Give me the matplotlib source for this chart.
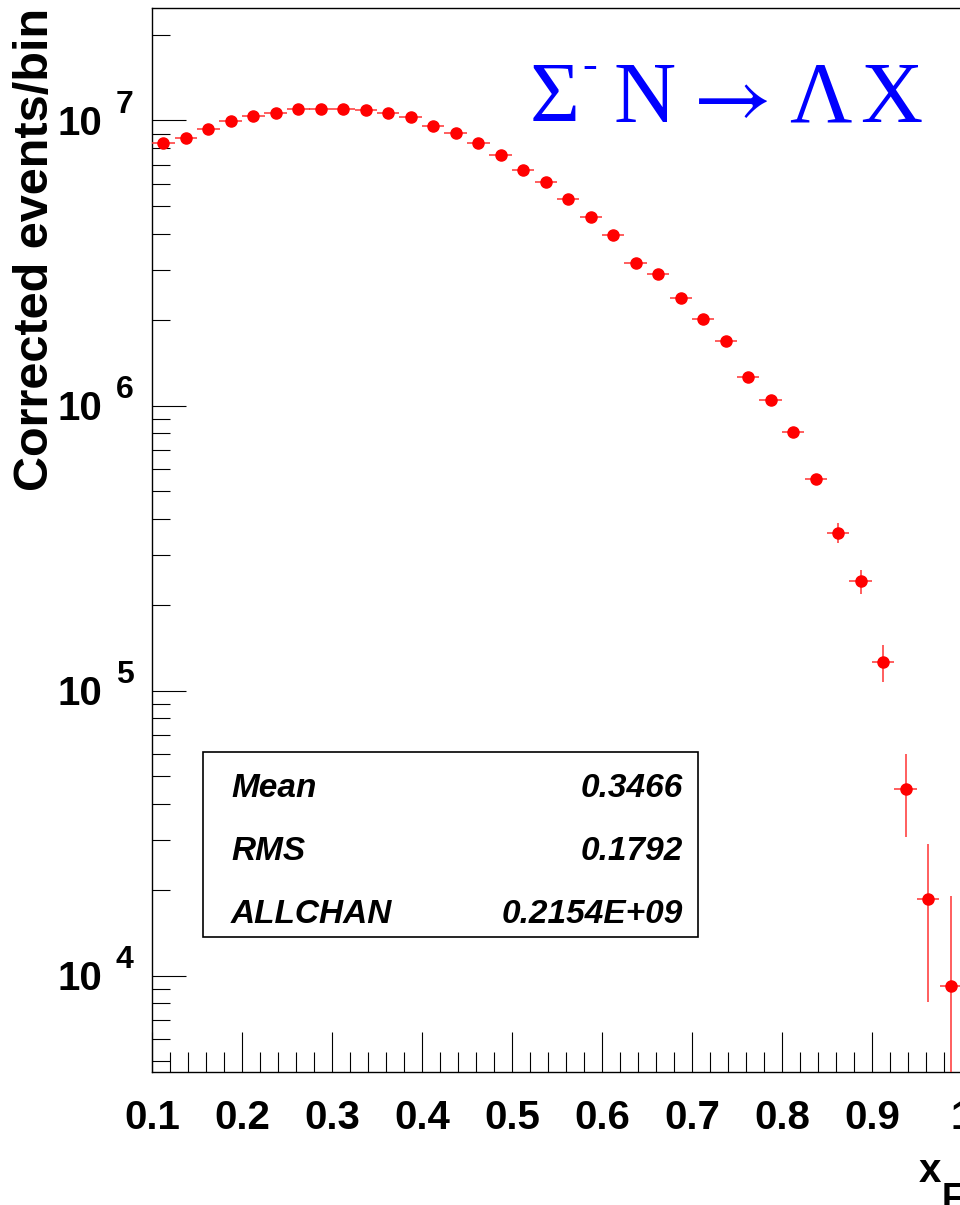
import matplotlib
matplotlib.use("Agg")
import matplotlib.pyplot as plt
import matplotlib.transforms as mtransforms
from matplotlib.patches import Rectangle
from matplotlib.ticker import MultipleLocator, LogLocator, NullFormatter, FuncFormatter

plt.rcParams["mathtext.fontset"] = "stix"

# --- Data ---
xf_centers = [0.1125, 0.1375, 0.1625, 0.1875, 0.2125, 0.2375, 0.2625, 0.2875, 0.3125,
              0.3375, 0.3625, 0.3875, 0.4125, 0.4375, 0.4625, 0.4875, 0.5125, 0.5375,
              0.5625, 0.5875, 0.6125, 0.6375, 0.6625, 0.6875, 0.7125, 0.7375, 0.7625,
              0.7875, 0.8125, 0.8375, 0.8625, 0.8875, 0.9125, 0.9375, 0.9625, 0.9875]
half_bin = [0.0125] * len(xf_centers)
events = [8.36e6, 8.66e6, 9.34e6, 9.98e6, 1.037e7, 1.065e7, 1.098e7, 1.095e7, 1.098e7,
          1.088e7, 1.065e7, 1.026e7, 9.59e6, 9.06e6, 8.32e6, 7.59e6, 6.71e6, 6.10e6,
          5.29e6, 4.59e6, 3.98e6, 3.17e6, 2.89e6, 2.38e6, 2.01e6, 1.69e6, 1.26e6,
          1.046e6, 8.09e5, 5.54e5, 3.58e5, 2.42e5, 1.26e5, 4.52e4, 1.855e4, 9.19e3]
errors = [6e4, 6e4, 6.5e4, 7e4, 7e4, 7e4, 7e4, 7e4, 7e4,
          7e4, 7e4, 7e4, 6.5e4, 6.5e4, 6e4, 6e4, 5.5e4, 5e4,
          4.5e4, 4e4, 3.5e4, 3.2e4, 3e4, 2.8e4, 2.5e4, 2.2e4, 2e4,
          1.8e4, 1.6e4, 1.8e4, 2.8e4, 2.3e4, 1.85e4, 1.45e4, 1.05e4, 9.8e3]

stat_names = ["Mean", "RMS", "ALLCHAN"]
stat_values = ["0.3466", "0.1792", "0.2154E+09"]

# reaction label pieces and their left edges (pixels)
reaction = [("Σ", 530), ("N", 614), (r"$\rightarrow$", 680), ("Λ", 789), ("X", 860)]

W, H = 960, 1205
SANS = "Liberation Sans"
SERIF = ["Liberation Serif", "DejaVu Serif"]


def fx(px):
    return px / W


def fy(py):
    return 1 - py / H


fig = plt.figure(figsize=(W / 100, H / 100), dpi=100)
ax = fig.add_axes([fx(152), fy(1071.7), 810 / W, (1071.7 - 8.3) / H])

ax.errorbar(xf_centers, events, xerr=half_bin, yerr=errors, fmt="o", color="red",
            ecolor="#ff3333", elinewidth=1.1, markersize=8, capsize=0, zorder=3)

ax.set_yscale("log")
ax.set_xlim(0.1, 1.0)
ax.set_ylim(4600, 2.475e7)

# ticks, ROOT style (inside, left/bottom only)
ax.xaxis.set_major_locator(MultipleLocator(0.1))
ax.xaxis.set_minor_locator(MultipleLocator(0.02))
ax.xaxis.set_major_formatter(FuncFormatter(lambda v, p: "%g" % round(v, 2)))
ax.yaxis.set_major_locator(LogLocator(base=10))
ax.yaxis.set_minor_locator(LogLocator(base=10, subs=range(2, 10)))
ax.yaxis.set_major_formatter(NullFormatter())
ax.yaxis.set_minor_formatter(NullFormatter())
ax.tick_params(axis="x", which="major", direction="in", length=29, width=0.8, pad=20,
               labelsize=29, top=False)
ax.tick_params(axis="x", which="minor", direction="in", length=14.4, width=0.8, top=False)
ax.tick_params(axis="y", which="major", direction="in", length=24.5, width=0.8, right=False)
ax.tick_params(axis="y", which="minor", direction="in", length=13, width=0.8, right=False)
for lab in ax.get_xticklabels():
    lab.set_fontfamily(SANS)
    lab.set_fontweight("bold")
for sp in ax.spines.values():
    sp.set_linewidth(1.0)

# y tick labels as "10 ^n"
ytr = ax.get_yaxis_transform()
for d in [4, 5, 6, 7]:
    base_tr = mtransforms.offset_copy(ytr, fig=fig, x=0, y=-14.5, units="dots")
    ax.text((102 - 152) / 810, 10 ** d, "10", transform=base_tr, ha="right", va="baseline",
            fontsize=29, fontweight="bold", family=SANS)
    sup_tr = mtransforms.offset_copy(ytr, fig=fig, x=0, y=7.5, units="dots")
    ax.text((116 - 152) / 810, 10 ** d, str(d), transform=sup_tr, ha="left", va="baseline",
            fontsize=23, fontweight="bold", family=SANS)

# axis titles
fig.text(fx(36), fy(8), "Corrected events/bin", rotation=90, ha="center", va="top",
         fontsize=35, fontweight="bold", family=SANS)
fig.text(fx(919), fy(1182), "x", ha="left", va="baseline", fontsize=29,
         fontweight="bold", family=SANS)
fig.text(fx(942), fy(1182), "F", ha="left", va="top", fontsize=26,
         fontweight="bold", family=SANS)

# reaction label
for glyph, px in reaction:
    fig.text(fx(px), fy(122), glyph, ha="left", va="baseline", fontsize=62,
             color="#0000ff", family=SERIF)
fig.text(fx(582), fy(78), "-", ha="left", va="baseline", fontsize=32,
         color="#0000ff", family=SERIF)

# statistics box
fig.patches.append(Rectangle((fx(203), fy(937)), (698 - 203) / W, (937 - 752) / H,
                             transform=fig.transFigure, fill=False, edgecolor="black",
                             linewidth=1.2))
for i, (name, val) in enumerate(zip(stat_names, stat_values)):
    yb = 797 + i * 63
    fig.text(fx(231), fy(yb), name, ha="left", va="baseline", fontsize=24,
             fontweight="bold", style="italic", family=SANS)
    fig.text(fx(683), fy(yb), val, ha="right", va="baseline", fontsize=24,
             fontweight="bold", style="italic", family=SANS)

fig.savefig("out.png", dpi=100)
